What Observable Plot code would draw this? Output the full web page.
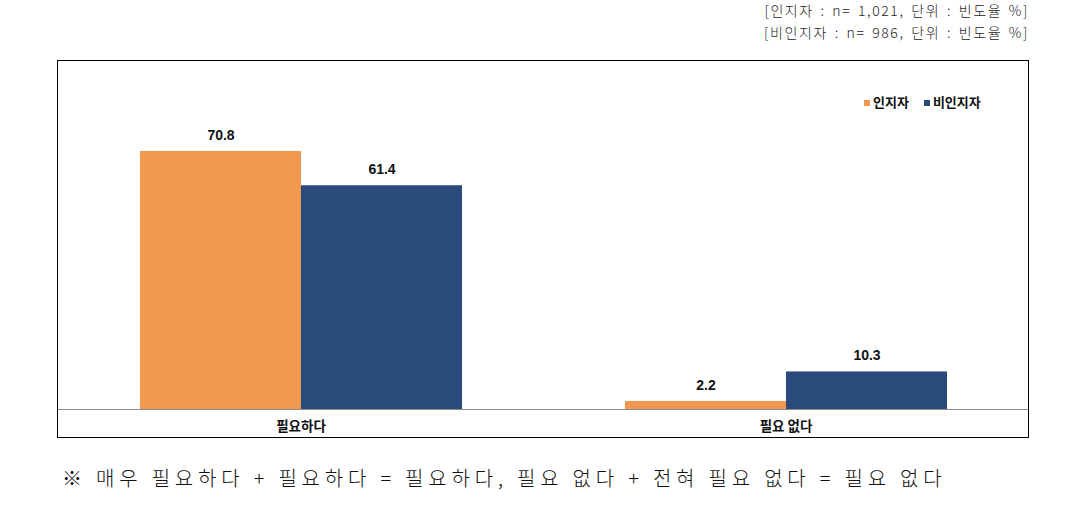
<!DOCTYPE html>
<html>
<head>
<meta charset="utf-8">
<script src="https://cdn.jsdelivr.net/npm/d3@7"></script>
<script src="https://cdn.jsdelivr.net/npm/@observablehq/plot@0.6"></script>
<style>
  html, body { margin: 0; padding: 0; background: #fff; }
  body { width: 1079px; height: 512px; position: relative; overflow: hidden; font-family: "Noto Sans CJK KR", sans-serif; }
  .hdr { position: absolute; right: 50px; font-size: 14px; color: #222; text-align: right; line-height: 18px; font-weight: 300; letter-spacing: 1.6px; word-spacing: 2px; }
  #chart { position: absolute; left: 57px; top: 60px; width: 970px; height: 376px; border: 1px solid #000; }
  #chart svg { display: block; }
  .legend { position: absolute; left: 864px; top: 92px; font-size: 13px; font-weight: 700; color: #111; display: flex; gap: 15px; align-items: center; }
  .legend span.sw { display: inline-block; width: 6px; height: 6px; margin-right: 3px; vertical-align: middle; }
  .foot { position: absolute; left: 62px; top: 463px; font-size: 20px; font-weight: 300; color: #111; letter-spacing: 4.8px; white-space: nowrap; }
</style>
</head>
<body>
<div class="hdr" id="h1" style="top:1px"></div>
<div class="hdr" id="h2" style="top:23px"></div>
<div id="chart"></div>
<div class="legend" id="legend"></div>
<div class="foot" id="foot"></div>
<script>
const categories = ["필요하다", "필요 없다"];
const series = ["인지자", "비인지자"];
const aware = [70.8, 2.2];
const unaware = [61.4, 10.3];
const colors = ["#F2994F", "#2A4A7C"];
const headerLines = ["[인지자 : n= 1,021, 단위 : 빈도율 %]", "[비인지자 : n= 986, 단위 : 빈도율 %]"];
const footnote = "※ 매우 필요하다 + 필요하다 = 필요하다, 필요 없다 + 전혀 필요 없다 = 필요 없다";

document.getElementById("h1").textContent = headerLines[0];
document.getElementById("h2").textContent = headerLines[1];
document.getElementById("foot").textContent = footnote;
const lg = document.getElementById("legend");
series.forEach((s, i) => {
  const d = document.createElement("div");
  d.innerHTML = `<span class="sw" style="background:${colors[i]}"></span>${s}`;
  lg.appendChild(d);
});

const data = [];
categories.forEach((c, i) => {
  data.push({category: c, series: series[0], value: aware[i]});
  data.push({category: c, series: series[1], value: unaware[i]});
});

const chart = Plot.plot({
  width: 970,
  height: 376,
  marginLeft: 0,
  marginRight: 0,
  marginTop: 20,
  marginBottom: 28,
  style: {fontFamily: "'Liberation Sans', Arial, sans-serif", background: "#fff"},
  fx: {domain: categories, padding: 0, axis: "bottom", tickSize: 0, label: null, tickPadding: 12},
  x: {domain: series, axis: null, paddingInner: 0, paddingOuter: 0.5},
  y: {domain: [0, 90], axis: null},
  color: {domain: series, range: colors},
  marks: [
    Plot.barY(data, {fx: "category", x: "series", y: "value", fill: "series"}),
    Plot.ruleY([0], {stroke: "#8c8c8c", strokeWidth: 1}),
    Plot.text(data, {fx: "category", x: "series", y: "value", text: d => d.value.toFixed(1), dy: -16, fontSize: 14, fontWeight: "bold", fill: "#111"})
  ]
});
chart.querySelectorAll('[aria-label="fx-axis tick label"] text').forEach(t => {
  t.style.fontFamily = "'Noto Sans CJK KR', sans-serif";
  t.style.fontWeight = "700";
  t.style.fontSize = "13.5px";
  t.style.fill = "#111";
});
document.getElementById("chart").appendChild(chart);
</script>
</body>
</html>
